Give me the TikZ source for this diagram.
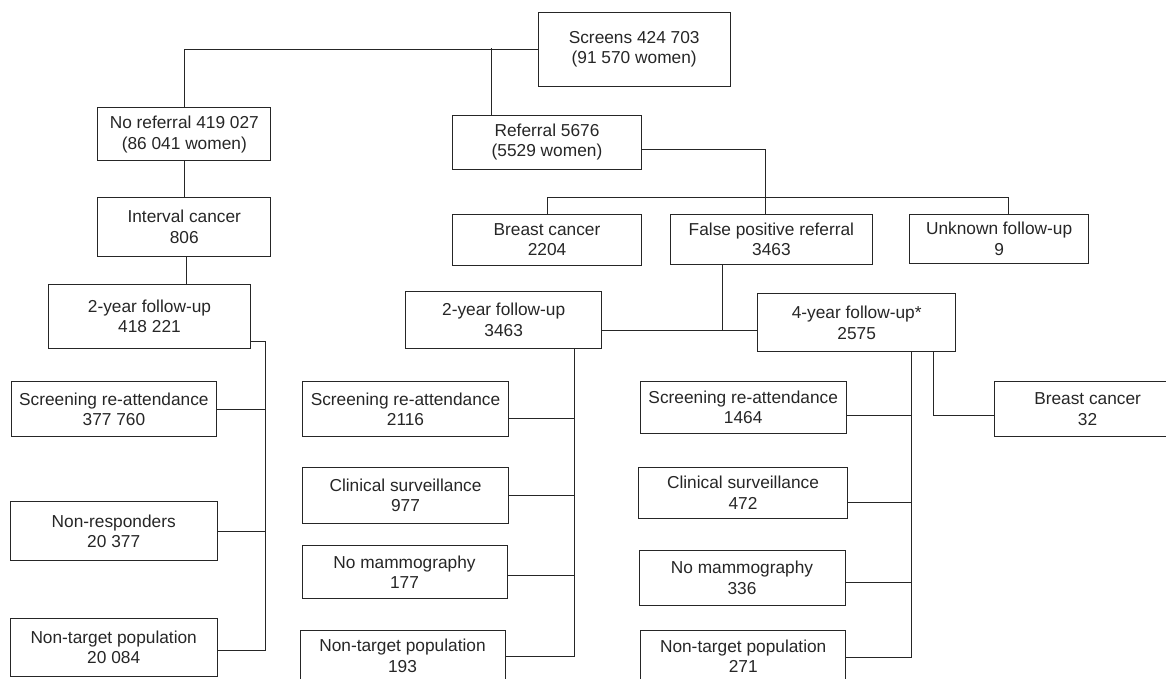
\documentclass[tikz,border=0pt]{standalone}
\usepackage{fontspec}
\setmainfont{Liberation Sans}

\begin{document}
\begin{tikzpicture}[x=1pt, y=-1pt, line width=1pt, color=black!85,
  box/.style = {draw, align=center, inner sep=0pt, font=\fontsize{17.3}{20.5}\selectfont}]
\useasboundingbox (0,0) rectangle (1166,678);
\clip (0,0) rectangle (1166,678);
\node[box, minimum width=192, minimum height=74] (screens) at (634.2,49.2) {Screens 424 703\\(91 570 women)};
\node[box, minimum width=173, minimum height=53] (noref) at (184.3,134.3) {No referral 419 027\\(86 041 women)};
\node[box, minimum width=188.5, minimum height=54] (referral) at (547,142) {Referral 5676\\(5529 women)};
\node[box, minimum width=173, minimum height=59.4] (interval) at (184.3,227) {Interval cancer\\806};
\node[box, minimum width=188.5, minimum height=50.7] (bc) at (547,239.7) {Breast cancer\\2204};
\node[box, minimum width=201.8, minimum height=50.4] (fp) at (771.4,239.5) {False positive referral\\3463};
\node[box, minimum width=178.6, minimum height=48.7] (unknown) at (999.1,238.7) {Unknown follow-up\\9};
\node[box, minimum width=202.5, minimum height=64.3] (twoyrA) at (149.5,316.2) {2-year follow-up\\418 221};
\node[box, minimum width=196, minimum height=57.3] (twoyrB) at (503.7,319.7) {2-year follow-up\\3463};
\node[box, minimum width=198.3, minimum height=58] (fouryr) at (856.7,322.7) {4-year follow-up*\\2575};
\node[box, minimum width=204.7, minimum height=55] (reattA) at (113.9,409.2) {Screening re-attendance\\377 760};
\node[box, minimum width=207.4, minimum height=59.3] (nonresp) at (113.7,531.3) {Non-responders\\20 377};
\node[box, minimum width=207.3, minimum height=57.7] (nontargA) at (113.7,647.2) {Non-target population\\20 084};
\node[box, minimum width=205.5, minimum height=55] (reattB) at (405.5,409.2) {Screening re-attendance\\2116};
\node[box, minimum width=205.5, minimum height=56] (clinB) at (405.5,495.3) {Clinical surveillance\\977};
\node[box, minimum width=205, minimum height=53.3] (nomamB) at (404.5,572.3) {No mammography\\177};
\node[box, minimum width=205, minimum height=50.6] (nontargB) at (402.5,656) {Non-target population\\193};
\node[box, minimum width=205.6, minimum height=51.6] (reattC) at (743.2,407.5) {Screening re-attendance\\1464};
\node[box, minimum width=209, minimum height=51] (clinC) at (743,492.8) {Clinical surveillance\\472};
\node[box, minimum width=206, minimum height=54.6] (nomamC) at (742,578) {No mammography\\336};
\node[box, minimum width=205.5, minimum height=50.6] (nontargC) at (743.2,656) {Non-target population\\271};
\node[box, minimum width=186.2, minimum height=55] (bcC) at (1087.6,409.2) {Breast cancer\\32};
\coordinate (split) at (491,48.3);
\coordinate (fork) at (765.3,197.3);
\coordinate (join) at (722,330.7);
\coordinate (trunkA) at (265,341.7);
\coordinate (trunkB) at (574.5,348.3);
\coordinate (trunkC) at (911,351.7);
\coordinate (trunkD) at (933.4,351.7);
\draw (screens.west) -| (noref.north);
\draw (split) -- (referral.north -| split);
\draw (noref) -- (interval);
\draw ([xshift=1.7pt]interval.south) -- ([xshift=1.7pt]interval.south |- twoyrA.north);
\draw (referral.east |- 0,149.3) -| (fork) -- (fp.north -| fork);
\draw (bc.north) |- (fork) -| ([xshift=9.3pt]unknown.north);
\draw (fp.south -| join) -- (join);
\draw (twoyrB.east |- join) -- (fouryr.west |- join);
\draw (twoyrA.east |- trunkA) -- (trunkA) -- (trunkA |- 0,650.7) -- (nontargA.east |- 0,650.7);
\draw (reattA) -- (reattA -| trunkA);
\draw (nonresp) -- (nonresp -| trunkA);
\draw (twoyrB.south -| trunkB) -- (trunkB |- 0,656) -- (nontargB.east |- 0,656);
\draw (reattB.east |- 0,418.3) -- (trunkB |- 0,418.3);
\draw (clinB.east |- 0,495) -- (trunkB |- 0,495);
\draw (nomamB.east |- 0,575.7) -- (trunkB |- 0,575.7);
\draw (fouryr.south -| trunkC) -- (trunkC |- 0,657.3) -- (nontargC.east |- 0,657.3);
\draw (reattC.east |- 0,415.3) -- (trunkC |- 0,415.3);
\draw (clinC.east |- 0,502.3) -- (trunkC |- 0,502.3);
\draw (nomamC.east |- 0,582.3) -- (trunkC |- 0,582.3);
\draw (fouryr.south -| trunkD) |- (bcC.west |- 0,415.3);
\end{tikzpicture}
\end{document}
